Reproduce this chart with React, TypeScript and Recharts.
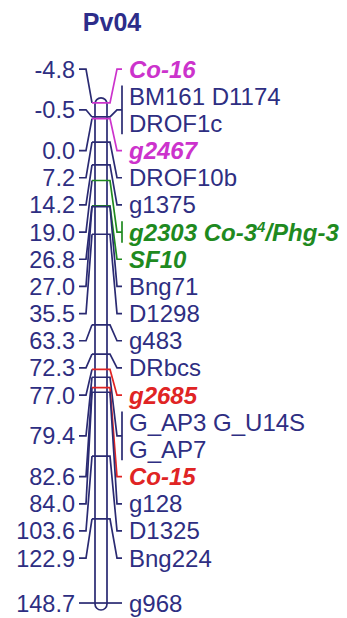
import React from "react";
import { ComposedChart, XAxis, YAxis, Line, Scatter, ReferenceArea, Customized } from "recharts";

// ---------- data ----------
const chromosomeName = "Pv04";
const chromosomeStart = -4.8;
const chromosomeEnd = 148.7;

// distinct locus positions (cM), top to bottom
const lociPositions = [-4.8, -0.5, 0.0, 7.2, 14.2, 19.0, 26.8, 27.0, 35.5, 63.3, 72.3, 77.0, 79.4, 82.6, 84.0, 103.6, 122.9, 148.7];

// marker text lines on the right side ("^4" = superscript 4)
const markerLines = [
  "Co-16", "BM161 D1174", "DROF1c", "g2467", "DROF10b", "g1375", "g2303 Co-3^4/Phg-3", "SF10",
  "Bng71", "D1298", "g483", "DRbcs", "g2685", "G_AP3 G_U14S", "G_AP7", "Co-15", "g128", "D1325",
  "Bng224", "g968",
];
// position (cM) of each marker line
const markerLinePositions = [
  -4.8, -0.5, -0.5, 0.0, 7.2, 14.2, 19.0, 26.8, 27.0, 35.5, 63.3, 72.3, 77.0, 79.4, 79.4, 82.6, 84.0,
  103.6, 122.9, 148.7,
];
// resistance-gene cluster each line belongs to ("" = ordinary marker)
const markerLineClusters = [
  "Co-16", "", "", "Co-16", "", "", "Co-3", "Co-3", "", "", "", "", "Co-15", "", "", "Co-15", "", "",
  "", "",
];

// ---------- layout / style ----------
const W = 347;
const H = 618;
const Y_DOMAIN: [number, number] = [-36.4, 153.3];
const LABEL_TOP = -15.2; // cM equivalent of the highest label row
const LABEL_GAP = 8.34; // cM equivalent of one label row
const BRACKET_EXT = 3.3;
const NAVY_LINE = "#2a2a72";
const NAVY_TEXT = "#2e2e82";
const clusterColors: Record<string, string> = {
  "": NAVY_LINE,
  "Co-16": "#cc33cc",
  "Co-3": "#1f8a1f",
  "Co-15": "#e02424",
};
const FONT = "'Liberation Sans', Arial, sans-serif";
const FS_LEFT = 23.5;
const FS_RIGHT = 24;
const BASE_SHIFT = 8.5;

const X_LEFT_TEXT = 75;
const X_LEFT_TICK0 = 79;
const X_LEFT_TICK1 = 86;
const X_BAR_IN = 92;
const X_BAR0 = 95;
const X_BAR1 = 107;
const X_BAR_OUT = 110;
const X_RIGHT_TICK0 = 117;
const X_RIGHT_TICK1 = 122;
const X_RIGHT_TEXT = 129;

// ---------- label placement: ordered least-squares spread with a top bound ----------
function spreadLabels(desired: number[], gap: number, top: number): number[] {
  const z = desired.map((d, i) => d - gap * i);
  const blocks: { sum: number; n: number }[] = [];
  z.forEach((v) => {
    blocks.push({ sum: v, n: 1 });
    while (blocks.length > 1) {
      const a = blocks[blocks.length - 2];
      const b = blocks[blocks.length - 1];
      if (a.sum / a.n <= b.sum / b.n) break;
      blocks.pop();
      a.sum += b.sum;
      a.n += b.n;
    }
  });
  const out: number[] = [];
  blocks.forEach((b) => {
    for (let k = 0; k < b.n; k++) out.push(Math.max(b.sum / b.n, top));
  });
  return out.map((v, i) => v + gap * i);
}

const labelY = spreadLabels(markerLinePositions, LABEL_GAP, LABEL_TOP);

const groups = lociPositions.map((pos) => {
  const idx = markerLinePositions.map((p, i) => (p === pos ? i : -1)).filter((i) => i >= 0);
  const ys = idx.map((i) => labelY[i]);
  const mean = ys.reduce((a, b) => a + b, 0) / ys.length;
  const markerCount = idx.reduce((a, i) => a + markerLines[i].split(" ").length, 0);
  const cluster = markerLineClusters[idx[0]];
  return { pos, idx, ys, mean, markerCount, cluster };
});

const rightLabels = markerLines.map((t, i) => ({
  x: X_RIGHT_TEXT,
  y: labelY[i],
  text: t,
  cluster: markerLineClusters[i],
}));
const leftLabels = groups.map((g) => ({ x: X_LEFT_TEXT, y: g.mean, text: g.pos.toFixed(1) }));

function renderRich(text: string) {
  const parts = text.split(/\^(\d)/);
  return parts.map((p, i) =>
    i % 2 === 1 ? (
      <tspan key={i} dy={-9} fontSize={15}>
        {p}
      </tspan>
    ) : i > 0 ? (
      <tspan key={i} dy={9}>
        {p}
      </tspan>
    ) : (
      <tspan key={i}>{p}</tspan>
    )
  );
}

const RightLabel = (props: any) => {
  const { cx, cy, payload } = props;
  const special = payload.cluster !== "";
  return (
    <text
      x={cx}
      y={cy + BASE_SHIFT}
      fontFamily={FONT}
      fontSize={FS_RIGHT}
      fontWeight={special ? "bold" : "normal"}
      fontStyle={special ? "italic" : "normal"}
      fill={special ? clusterColors[payload.cluster] : NAVY_TEXT}
    >
      {renderRich(payload.text)}
    </text>
  );
};

const LeftLabel = (props: any) => {
  const { cx, cy, payload } = props;
  return (
    <text x={cx} y={cy + BASE_SHIFT} textAnchor="end" fontFamily={FONT} fontSize={FS_LEFT} fill={NAVY_TEXT}>
      {payload.text}
    </text>
  );
};

const Title = () => (
  <text x={112} y={31} textAnchor="middle" fontFamily={FONT} fontSize={25} fontWeight="bold" fill="#2d2d8a">
    {chromosomeName}
  </text>
);

const BarShape = (props: any) => {
  const { x, y, width, height } = props;
  return (
    <rect
      x={x}
      y={y - 5}
      width={width}
      height={height + 12}
      rx={6}
      ry={6}
      fill="none"
      stroke={NAVY_LINE}
      strokeWidth={1.7}
    />
  );
};

export default function App() {
  const lineProps = {
    dataKey: "y",
    dot: false,
    activeDot: false,
    isAnimationActive: false,
    strokeWidth: 1.7,
    type: "linear" as const,
  };
  return (
    <div style={{ width: W, height: H }}>
      <style>{"body{margin:0;overflow:hidden;background:#fff}"}</style>
      <ComposedChart width={W} height={H} margin={{ top: 0, right: 0, bottom: 0, left: 0 }}>
        <XAxis type="number" dataKey="x" domain={[0, W]} allowDataOverflow hide />
        <YAxis type="number" dataKey="y" domain={Y_DOMAIN} allowDataOverflow reversed hide />
        <ReferenceArea
          x1={X_BAR0}
          x2={X_BAR1}
          y1={chromosomeStart}
          y2={chromosomeEnd}
          shape={<BarShape />}
          ifOverflow="visible"
        />
        {groups.map((g, gi) => (
          <Line
            key={"l" + gi}
            {...lineProps}
            stroke={NAVY_LINE}
            data={[
              { x: X_LEFT_TICK0, y: g.mean },
              { x: X_LEFT_TICK1, y: g.mean },
              { x: X_BAR_IN, y: g.pos },
            ]}
          />
        ))}
        {groups.map((g, gi) => (
          <Line
            key={"r" + gi}
            {...lineProps}
            stroke={clusterColors[g.cluster]}
            data={[
              { x: X_BAR_IN, y: g.pos },
              { x: X_BAR_OUT, y: g.pos },
              { x: X_RIGHT_TICK0, y: g.mean },
              { x: X_RIGHT_TICK1, y: g.mean },
            ]}
          />
        ))}
        {groups
          .filter((g) => g.markerCount > 1)
          .map((g, gi) => (
            <Line
              key={"b" + gi}
              {...lineProps}
              stroke={clusterColors[g.cluster]}
              data={[
                { x: X_RIGHT_TICK1, y: g.ys[0] - BRACKET_EXT },
                { x: X_RIGHT_TICK1, y: g.ys[g.ys.length - 1] + BRACKET_EXT },
              ]}
            />
          ))}
        <Scatter data={leftLabels} dataKey="y" isAnimationActive={false} shape={<LeftLabel />} />
        <Scatter data={rightLabels} dataKey="y" isAnimationActive={false} shape={<RightLabel />} />
        <Customized component={<Title />} />
      </ComposedChart>
    </div>
  );
}
